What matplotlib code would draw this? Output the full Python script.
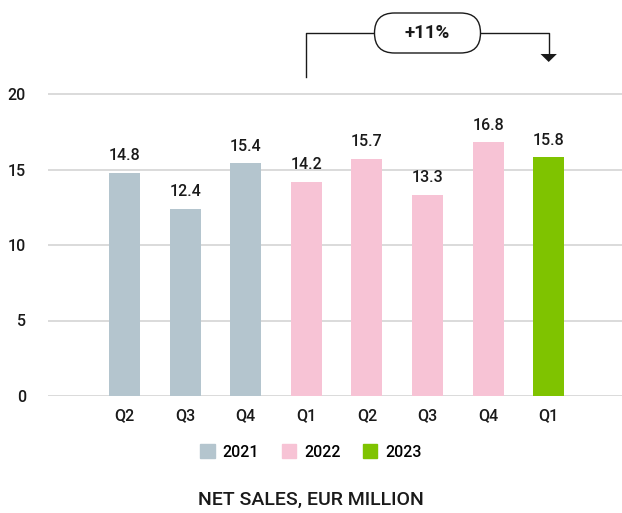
import matplotlib
matplotlib.use("Agg")
import matplotlib.pyplot as plt
from matplotlib.patches import FancyBboxPatch, Patch

quarters = ["Q2", "Q3", "Q4", "Q1", "Q2", "Q3", "Q4", "Q1"]
years = ["2021", "2021", "2021", "2022", "2022", "2022", "2022", "2023"]
values = [14.8, 12.4, 15.4, 14.2, 15.7, 13.3, 16.8, 15.8]
year_colors = {"2021": "#b4c5ce", "2022": "#f7c3d5", "2023": "#7fc300"}
growth_label = "+11%"
growth_from, growth_to = 3, 7
title = "NET SALES, EUR MILLION"

plt.rcParams['font.family'] = ['Roboto', 'DejaVu Sans']
plt.rcParams['font.weight'] = 'medium'
fig = plt.figure(figsize=(6.22, 5.13), dpi=100)
ax = fig.add_axes([48/622, (513-396)/513, 574/622, 396/513])

x = list(range(len(values)))
colors = [year_colors[y] for y in years]
ax.bar(x, values, width=0.51, color=colors, zorder=3)
for xi, v in zip(x, values):
    ax.annotate(f"{v:.1f}", (xi, v), xytext=(0, 7), textcoords="offset points",
                ha="center", va="bottom", fontsize=11.5, color="#1a1a1a")

ax.set_xlim(-1.263, 8.21)
ax.set_ylim(0, 396/15.1)
ax.set_yticks([0, 5, 10, 15, 20])
ax.set_xticks(x)
ax.set_xticklabels(quarters)
ax.tick_params(axis="both", length=0, labelsize=11.5, colors="#1a1a1a")
ax.tick_params(axis="x", pad=9)
ax.tick_params(axis="y", pad=16)
for s in ax.spines.values():
    s.set_visible(False)
for t in [0, 5, 10, 15, 20]:
    ax.axhline(t, color="#d4d4d4", lw=1.2, zorder=1)

# growth bracket
y_line = 24.04
tip_y, base_y = 22.12, 22.65
ax.plot([growth_from, growth_from, growth_to, growth_to],
        [21.1, y_line, y_line, base_y], color="#1a1a1a", lw=1, clip_on=False)
hw = 0.135
ax.fill([growth_to - hw, growth_to + hw, growth_to], [base_y, base_y, tip_y],
        color="#1a1a1a", clip_on=False, lw=0)

fig.canvas.draw()
mid = (growth_from + growth_to) / 2
cx, cy = ax.transData.transform((mid, y_line))
w, h = 106, 40
pill = FancyBboxPatch(((cx - w/2)/100, (cy - h/2)/100), w/100, h/100,
                      boxstyle="round,pad=0,rounding_size=0.2",
                      transform=fig.dpi_scale_trans, fc="white", ec="#1a1a1a", lw=1,
                      zorder=5)
fig.patches.append(pill)
fig.text(cx/622, cy/513, growth_label, ha="center", va="center", fontsize=13.5,
         fontweight="bold", color="#1a1a1a", zorder=6)

handles = [Patch(color=year_colors[k], label=k) for k in ["2021", "2022", "2023"]]
fig.legend(handles=handles, loc="center", bbox_to_anchor=(0.5, (513-452)/513),
           ncol=3, frameon=False, fontsize=11.5, handlelength=0.9, handleheight=0.9,
           columnspacing=1.4, handletextpad=0.5)
fig.text(0.5, (513-500)/513, title, ha="center", va="center", fontsize=14,
         fontweight="medium", color="#1a1a1a")

fig.savefig("out.png", dpi=100)
